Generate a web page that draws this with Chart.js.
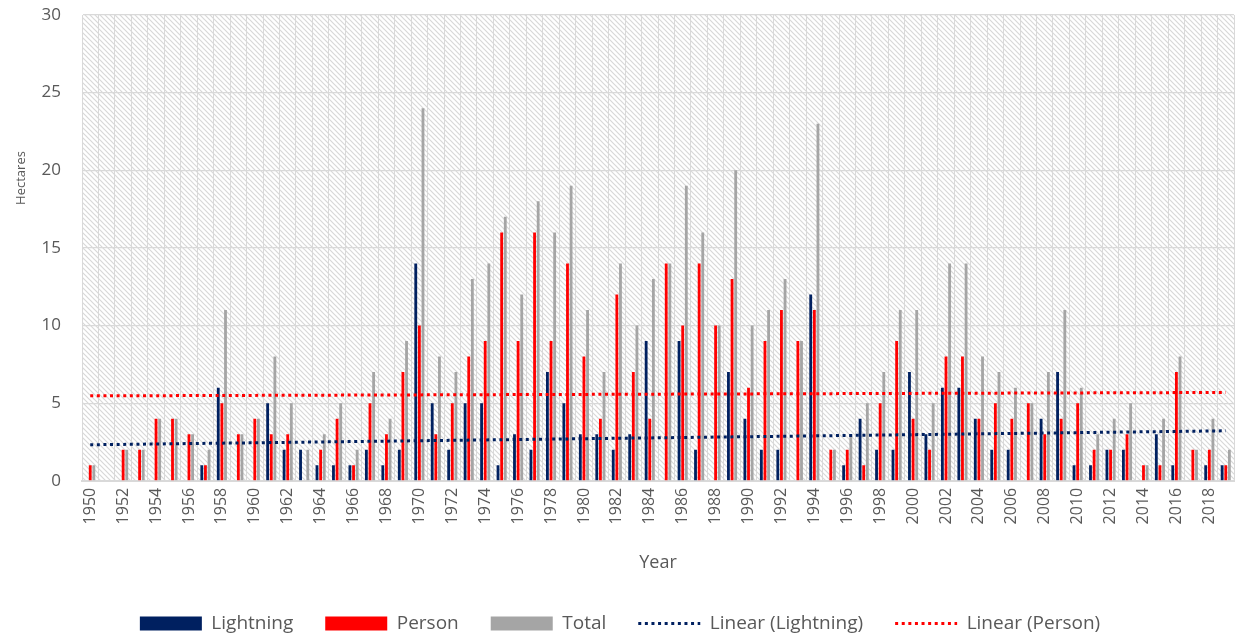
<!DOCTYPE html>
<html>
<head>
<meta charset="utf-8">
<script src="https://cdn.jsdelivr.net/npm/chart.js@4/dist/chart.umd.min.js"></script>
<style>
  html, body { margin: 0; padding: 0; background: #fff; }
  #wrap { width: 1236px; height: 639px; }
</style>
</head>
<body>
<div id="wrap"><canvas id="chart"></canvas></div>
<script>
// ─── Data ───
const years = [];
for (let y = 1950; y <= 2019; y++) years.push(String(y));

const lightning = [
  0, 0, 0, 0, 0, 0, 0, 1, 6, 0,
  0, 5, 2, 2, 1, 1, 1, 2, 1, 2,
  14, 5, 2, 5, 5, 1, 3, 2, 7, 5,
  3, 3, 2, 3, 9, 0, 9, 2, 0, 7,
  4, 2, 2, 0, 12, 0, 1, 4, 2, 2,
  7, 3, 6, 6, 4, 2, 2, 0, 4, 7,
  1, 1, 2, 2, 0, 3, 1, 0, 1, 1
];
const person = [
  1, 0, 2, 2, 4, 4, 3, 1, 5, 3,
  4, 3, 3, 0, 2, 4, 1, 5, 3, 7,
  10, 3, 5, 8, 9, 16, 9, 16, 9, 14,
  8, 4, 12, 7, 4, 14, 10, 14, 10, 13,
  6, 9, 11, 9, 11, 2, 2, 1, 5, 9,
  4, 2, 8, 8, 4, 5, 4, 5, 3, 4,
  5, 2, 2, 3, 1, 1, 7, 2, 2, 1
];
const total = [
  1, 0, 2, 2, 4, 4, 3, 2, 11, 3,
  4, 8, 5, 2, 3, 5, 2, 7, 4, 9,
  24, 8, 7, 13, 14, 17, 12, 18, 16, 19,
  11, 7, 14, 10, 13, 14, 19, 16, 10, 20,
  10, 11, 13, 9, 23, 2, 3, 5, 7, 11,
  11, 5, 14, 14, 8, 7, 6, 5, 7, 11,
  6, 3, 4, 5, 1, 4, 8, 2, 4, 2
];
// trend line end values (first year, last year) as drawn in the reference
const lightningTrend = [2.32, 3.22];
const personTrend = [5.47, 5.69];

const yTicks = [0, 5, 10, 15, 20, 25, 30];

// ─── Style ───
const FONT = '"Open Sans", "Liberation Sans", sans-serif';
const TEXT = '#595959';
const GRID = '#d9d9d9';
const C_LIGHT = '#002060';
const C_PERSON = '#ff0000';
const C_TOTAL = '#a5a5a5';
const DOTS = [3, 3.6];

function trendPoints(ends) {
  return [{ x: years[0], y: ends[0] }, { x: years[years.length - 1], y: ends[1] }];
}

// hatched plot background
function makeHatch() {
  const c = document.createElement('canvas');
  c.width = 5; c.height = 5;
  const g = c.getContext('2d');
  g.fillStyle = '#ffffff';
  g.fillRect(0, 0, 5, 5);
  g.strokeStyle = '#d8d8d8';
  g.lineWidth = 1.2;
  g.beginPath();
  g.moveTo(-1, -1); g.lineTo(6, 6);
  g.moveTo(-1, 4); g.lineTo(1, 6);
  g.moveTo(4, -1); g.lineTo(6, 1);
  g.stroke();
  return c;
}

const hatchBg = {
  id: 'hatchBg',
  beforeDraw(chart) {
    const { ctx, chartArea: a } = chart;
    ctx.save();
    ctx.fillStyle = ctx.createPattern(makeHatch(), 'repeat');
    ctx.fillRect(a.left, a.top, a.right - a.left, a.bottom - a.top);
    ctx.restore();
  }
};

// y axis title sits higher than centre in the reference, so draw it here
const yTitle = {
  id: 'yTitle',
  afterDraw(chart) {
    const { ctx } = chart;
    ctx.save();
    ctx.translate(21, 178);
    ctx.rotate(-Math.PI / 2);
    ctx.font = '13px ' + FONT;
    ctx.fillStyle = TEXT;
    ctx.textAlign = 'center';
    ctx.textBaseline = 'middle';
    ctx.fillText('Hectares', 0, 0);
    ctx.restore();
  }
};

Chart.defaults.font.family = FONT;
Chart.defaults.color = TEXT;

const barDs = (label, data, color) => ({
  type: 'bar', label, data, order: 1,
  backgroundColor: color, borderWidth: 0,
  categoryPercentage: 0.66, barPercentage: 0.78,
  pointStyle: 'rect'
});
const lineDs = (label, ends, color) => ({
  type: 'line', label, data: trendPoints(ends), order: 0,
  borderColor: color, backgroundColor: color,
  borderWidth: 3, borderDash: DOTS,
  pointRadius: 0, pointStyle: 'line', fill: false, tension: 0
});

new Chart(document.getElementById('chart'), {
  data: {
    labels: years,
    datasets: [
      barDs('Lightning', lightning, C_LIGHT),
      barDs('Person', person, C_PERSON),
      barDs('Total', total, C_TOTAL),
      lineDs('Linear (Lightning)', lightningTrend, C_LIGHT),
      lineDs('Linear (Person)', personTrend, C_PERSON)
    ]
  },
  options: {
    responsive: true,
    maintainAspectRatio: false,
    animation: false,
    layout: { padding: { left: 6, right: 2, top: 15, bottom: -4 } },
    plugins: {
      tooltip: { enabled: false },
      legend: {
        position: 'bottom',
        labels: {
          usePointStyle: true,
          pointStyleWidth: 62,
          boxHeight: 14,
          padding: 32,
          font: { size: 19 },
          color: TEXT,
          sort: (a, b) => a.datasetIndex - b.datasetIndex,
          generateLabels: chart => {
            const items = Chart.defaults.plugins.legend.labels.generateLabels(chart);
            items.forEach(it => {
              const ds = chart.data.datasets[it.datasetIndex];
              if (ds.type === 'line') {
                it.lineDash = DOTS;
                it.lineWidth = 3;
                it.strokeStyle = ds.borderColor;
              }
            });
            return items;
          }
        }
      }
    },
    scales: {
      x: {
        type: 'category',
        offset: true,
        afterFit: axis => { axis.paddingLeft = 0; axis.paddingRight = 0; },
        grid: { display: true, offset: true, color: GRID, lineWidth: 1, drawTicks: false },
        border: { color: GRID, width: 2 },
        ticks: {
          autoSkip: false,
          maxRotation: 90, minRotation: 90,
          padding: 7,
          font: { size: 16 },
          color: TEXT,
          callback: (v, i) => (i % 2 === 0 ? years[i] : '')
        },
        title: { display: true, text: 'Year', font: { size: 18 }, color: TEXT, padding: { top: 21, bottom: 8 } }
      },
      y: {
        min: 0, max: 30,
        afterBuildTicks: axis => { axis.ticks = yTicks.map(v => ({ value: v })); },
        afterFit: axis => { axis.width = 76; axis.paddingTop = 0; axis.paddingBottom = 0; },
        grid: { color: GRID, lineWidth: 1.3, drawTicks: false },
        border: { color: GRID, width: 1 },
        ticks: { padding: 21, font: { size: 17 }, color: TEXT }
      }
    }
  },
  plugins: [hatchBg, yTitle]
});
</script>
</body>
</html>
